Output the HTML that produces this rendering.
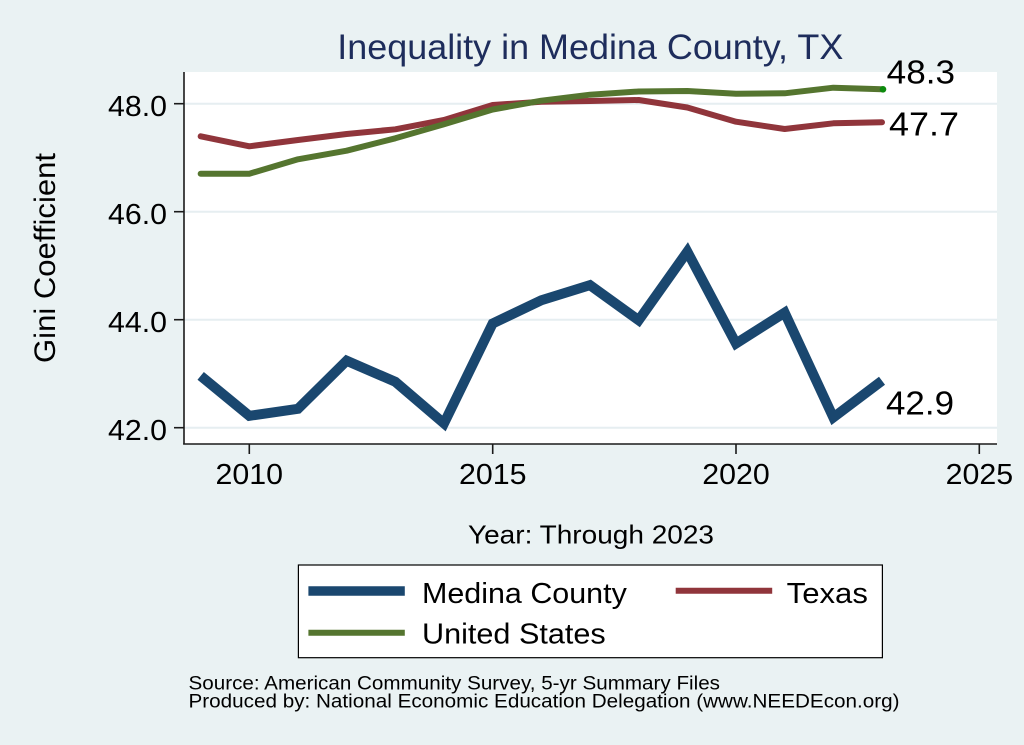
<!DOCTYPE html>
<html>
<head>
<meta charset="utf-8">
<style>
  html,body{margin:0;padding:0;background:#eaf2f3;}
  svg{display:block;}
  text{font-family:"Liberation Sans", Arial, sans-serif;}
</style>
</head>
<body>
<svg width="1024" height="745" viewBox="0 0 1024 745" xmlns="http://www.w3.org/2000/svg">
  <rect x="0" y="0" width="1024" height="745" fill="#eaf2f3"/>
  <!-- plot area -->
  <rect x="184" y="72" width="813" height="372" fill="#ffffff"/>
  <!-- gridlines -->
  <g stroke="#e6eef1" stroke-width="2">
    <line x1="184" y1="103.7" x2="997" y2="103.7"/>
    <line x1="184" y1="211.7" x2="997" y2="211.7"/>
    <line x1="184" y1="319.7" x2="997" y2="319.7"/>
    <line x1="184" y1="427.7" x2="997" y2="427.7"/>
  </g>
  <!-- axes -->
  <g stroke="#1a1a1a" stroke-width="1.6" fill="none">
    <line x1="184" y1="72" x2="184" y2="444.5"/>
    <line x1="183.2" y1="444" x2="997" y2="444"/>
    <line x1="174" y1="103.7" x2="184" y2="103.7"/>
    <line x1="174" y1="211.7" x2="184" y2="211.7"/>
    <line x1="174" y1="319.7" x2="184" y2="319.7"/>
    <line x1="174" y1="427.7" x2="184" y2="427.7"/>
    <line x1="249.3" y1="444" x2="249.3" y2="454"/>
    <line x1="492.7" y1="444" x2="492.7" y2="454"/>
    <line x1="736" y1="444" x2="736" y2="454"/>
    <line x1="979.3" y1="444" x2="979.3" y2="454"/>
  </g>
  <!-- y tick labels -->
  <g font-size="29" fill="#000" text-anchor="end">
    <text x="167" y="116" textLength="59" lengthAdjust="spacingAndGlyphs">48.0</text>
    <text x="167" y="224" textLength="59" lengthAdjust="spacingAndGlyphs">46.0</text>
    <text x="167" y="332" textLength="59" lengthAdjust="spacingAndGlyphs">44.0</text>
    <text x="167" y="440" textLength="59" lengthAdjust="spacingAndGlyphs">42.0</text>
  </g>
  <!-- x tick labels -->
  <g font-size="29" fill="#000">
    <text x="215.5" y="484" textLength="67.5" lengthAdjust="spacingAndGlyphs">2010</text>
    <text x="459" y="484" textLength="67.5" lengthAdjust="spacingAndGlyphs">2015</text>
    <text x="702.3" y="484" textLength="67.5" lengthAdjust="spacingAndGlyphs">2020</text>
    <text x="945.6" y="484" textLength="67.5" lengthAdjust="spacingAndGlyphs">2025</text>
  </g>
  <!-- axis titles -->
  <text transform="translate(55,258) rotate(-90)" text-anchor="middle" font-size="30" fill="#000" textLength="210" lengthAdjust="spacingAndGlyphs">Gini Coefficient</text>
  <text x="468" y="543.5" font-size="26" fill="#000" textLength="246" lengthAdjust="spacingAndGlyphs">Year: Through 2023</text>
  <!-- title -->
  <text x="337.3" y="59" font-size="35" fill="#1e2d5c" textLength="506" lengthAdjust="spacingAndGlyphs">Inequality in Medina County, TX</text>

  <!-- series -->
  <polyline fill="none" stroke="#1a476f" stroke-width="10" stroke-linejoin="miter" stroke-miterlimit="3" stroke-linecap="butt"
    points="200.67,375.86 249.33,415.82 298,408.8 346.67,360.74 395.33,381.8 444,423.38 492.67,323.48 541.33,300.26 590,285.14 638.67,320.24 687.33,251.66 736,343.46 784.67,312.68 833.33,417.44 882,380.72"/>
  <polyline fill="none" stroke="#90353b" stroke-width="6" stroke-linejoin="round" stroke-linecap="round"
    points="200.67,136.3 249.33,146.3 298,140 346.67,134 395.33,129.3 444,120 492.67,105 541.33,101.7 590,101 638.67,100 687.33,107.5 736,121.7 784.67,129 833.33,123.3 882,122.3"/>
  <polyline fill="none" stroke="#55752f" stroke-width="6" stroke-linejoin="round" stroke-linecap="round"
    points="200.67,173.7 249.33,173.7 298,159.3 346.67,150.7 395.33,138.3 444,124.3 492.67,109.5 541.33,100.7 590,94.7 638.67,91.5 687.33,91 736,93.8 784.67,93.3 833.33,87.7 882,89.3"/>
  <circle cx="883" cy="89.3" r="3.3" fill="#0d8a0d"/>

  <!-- end labels -->
  <g font-size="33" fill="#000">
    <text x="886.7" y="83.3" textLength="68.3" lengthAdjust="spacingAndGlyphs">48.3</text>
    <text x="889" y="135.3" textLength="70" lengthAdjust="spacingAndGlyphs">47.7</text>
    <text x="886" y="414.3" textLength="68" lengthAdjust="spacingAndGlyphs">42.9</text>
  </g>

  <!-- legend -->
  <rect x="298.4" y="565" width="584" height="92.7" fill="#ffffff" stroke="#000" stroke-width="1.2"/>
  <line x1="308.4" y1="591" x2="404.8" y2="591" stroke="#1a476f" stroke-width="9.5"/>
  <line x1="675.7" y1="590.7" x2="772.2" y2="590.7" stroke="#90353b" stroke-width="6"/>
  <line x1="308.4" y1="632.7" x2="404.8" y2="632.7" stroke="#55752f" stroke-width="6"/>
  <g font-size="29" fill="#000">
    <text x="422" y="603" textLength="204.8" lengthAdjust="spacingAndGlyphs">Medina County</text>
    <text x="786.7" y="603" textLength="81.2" lengthAdjust="spacingAndGlyphs">Texas</text>
    <text x="422" y="643.5" textLength="183.7" lengthAdjust="spacingAndGlyphs">United States</text>
  </g>

  <!-- notes -->
  <g font-size="19" fill="#000">
    <text x="188.5" y="689.3" textLength="531.5" lengthAdjust="spacingAndGlyphs">Source: American Community Survey, 5-yr Summary Files</text>
    <text x="188.5" y="707.7" textLength="711" lengthAdjust="spacingAndGlyphs">Produced by: National Economic Education Delegation (www.NEEDEcon.org)</text>
  </g>
</svg>
</body>
</html>
